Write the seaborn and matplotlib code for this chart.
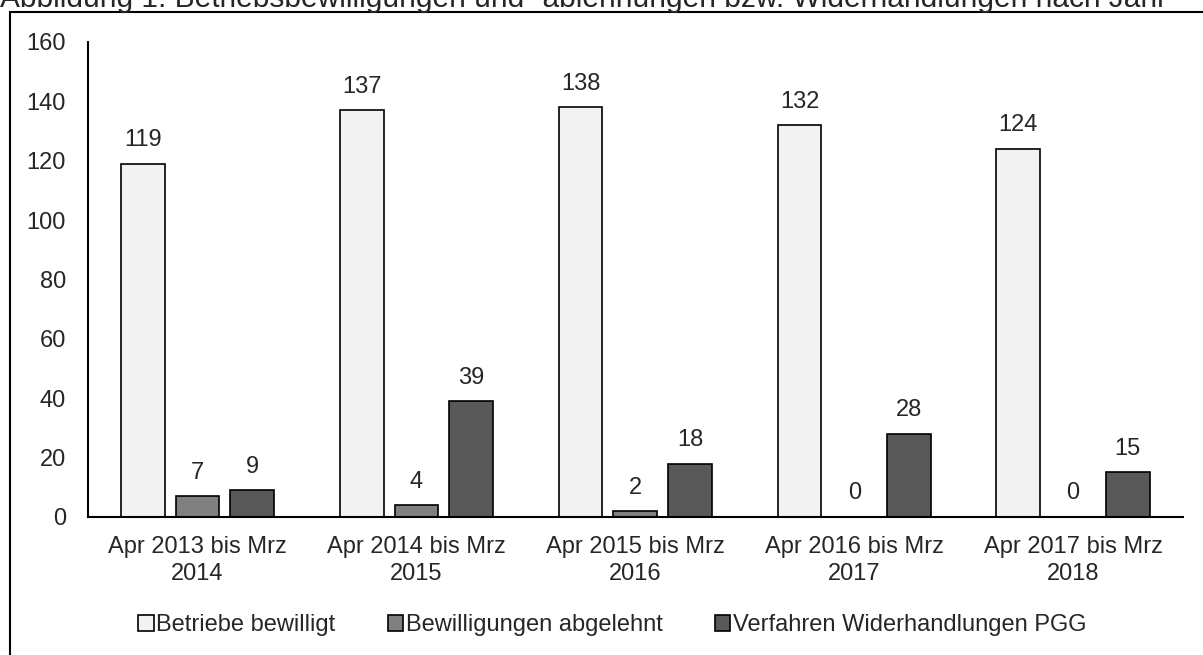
import pandas as pd
import matplotlib.pyplot as plt
import matplotlib.patches as mpatches
import seaborn as sns

# =============================
# DATA
# =============================
periods = ["Apr 2013 bis Mrz\n2014", "Apr 2014 bis Mrz\n2015", "Apr 2015 bis Mrz\n2016",
           "Apr 2016 bis Mrz\n2017", "Apr 2017 bis Mrz\n2018"]
series = ["Betriebe bewilligt", "Bewilligungen abgelehnt", "Verfahren Widerhandlungen PGG"]
bewilligt = [119, 137, 138, 132, 124]
abgelehnt = [7, 4, 2, 0, 0]
verfahren = [9, 39, 18, 28, 15]
colors = ["#F2F2F2", "#808080", "#595959"]

df = pd.DataFrame({
    "period": periods * 3,
    "series": [series[0]] * 5 + [series[1]] * 5 + [series[2]] * 5,
    "value": bewilligt + abgelehnt + verfahren,
})

# =============================
# PLOT
# =============================
sns.set_style("white")
plt.rcParams["font.family"] = ["Liberation Sans", "DejaVu Sans"]
FS = 17

fig = plt.figure(figsize=(12.03, 6.55), dpi=100)
ax = fig.add_axes([0.0732, 0.2107, 0.9098, 0.7252])

sns.barplot(data=df, x="period", y="value", hue="series", palette=colors,
            width=0.75, gap=0.2, edgecolor="black", linewidth=1.2, ax=ax)

for c in ax.containers:
    ax.bar_label(c, padding=9, fontsize=FS)

ax.set_ylim(0, 160)
ax.set_yticks(range(0, 161, 20))
ax.set_xlim(-0.5, 4.5)
ax.set_xlabel("")
ax.set_ylabel("")
ax.tick_params(axis="y", labelsize=FS, length=0, pad=16)
ax.tick_params(axis="x", labelsize=FS, length=0, pad=14)
for lbl in ax.get_xticklabels():
    lbl.set_linespacing(1.25)
for s in ["top", "right"]:
    ax.spines[s].set_visible(False)
for s in ["left", "bottom"]:
    ax.spines[s].set_color("black")
    ax.spines[s].set_linewidth(1.5)

handles, labels = ax.get_legend_handles_labels()
ax.get_legend().remove()
fig.legend(handles, labels, loc="center", bbox_to_anchor=(0.509, 1 - 625 / 655), ncol=3,
           frameon=False, fontsize=FS, handlelength=0.65, handleheight=0.65,
           handletextpad=0.12, columnspacing=2.2)

# outer frame (partly outside the picture)
fig.patches.append(mpatches.Rectangle((10 / 1203, -0.1), 1.2, 1 - 12 / 655 + 0.1,
                                      transform=fig.transFigure, fill=False,
                                      edgecolor="black", linewidth=1.5))

fig.text(0.0, 1 - 7 / 655, "Abbildung 1: Betriebsbewilligungen und -ablehnungen bzw. Widerhandlungen nach Jahr",
         fontsize=21.5, va="baseline", ha="left")

plt.savefig("out.png", dpi=100)
plt.close()
